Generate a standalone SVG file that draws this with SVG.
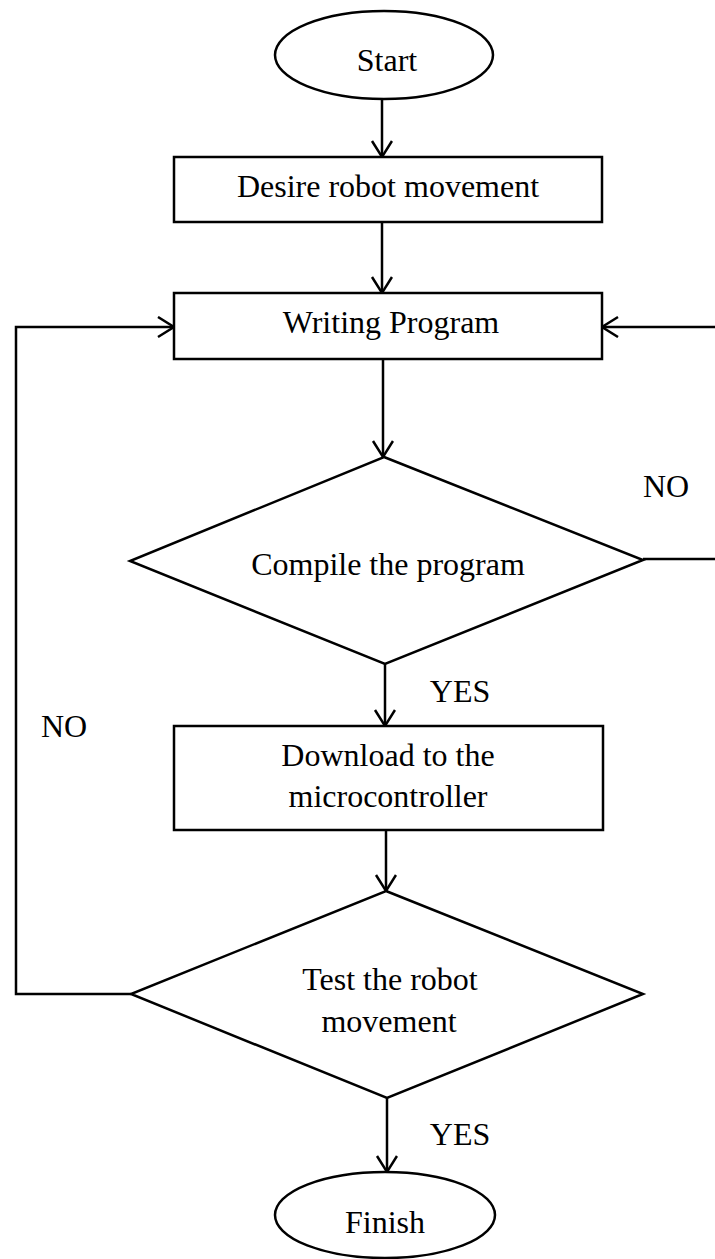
<svg xmlns="http://www.w3.org/2000/svg" width="715" height="1259" viewBox="0 0 715 1259">
<style>
.s{fill:#fff;stroke:#000;stroke-width:2.5}
.c{fill:none;stroke:#000;stroke-width:2.5}
text{font-family:"Liberation Serif","Times New Roman",serif;font-size:32px;fill:#000}
.m{text-anchor:middle}
</style>
<defs>
<marker id="a" markerWidth="20" markerHeight="24" refX="17" refY="11" orient="auto" markerUnits="userSpaceOnUse">
<path d="M1,1 L17,11 L1,21" fill="none" stroke="#000" stroke-width="2.5"/>
</marker>
</defs>
<rect width="715" height="1259" fill="#fff"/>
<g id="connectors">
<line class="c" x1="382" y1="99" x2="382" y2="157" marker-end="url(#a)"/>
<line class="c" x1="382" y1="222" x2="382" y2="293" marker-end="url(#a)"/>
<line class="c" x1="383" y1="359" x2="383" y2="457" marker-end="url(#a)"/>
<line class="c" x1="385" y1="664" x2="385" y2="726" marker-end="url(#a)"/>
<line class="c" x1="386" y1="830" x2="386" y2="891" marker-end="url(#a)"/>
<line class="c" x1="387" y1="1098" x2="387" y2="1172" marker-end="url(#a)"/>
<path class="c" d="M131,994 H16 V327 H174" marker-end="url(#a)"/>
<path class="c" d="M643,559 H724 V327 H602" marker-end="url(#a)"/>
<text x="666" y="497" class="m">NO</text>
<text x="460" y="702" class="m">YES</text>
<text x="64" y="737" class="m">NO</text>
<text x="460" y="1145" class="m">YES</text>
</g>
<g id="start">
<ellipse class="s" cx="384" cy="55" rx="109" ry="44"/>
<text x="387" y="71" class="m">Start</text>
</g>
<g id="desire">
<rect class="s" x="174" y="157" width="428" height="65"/>
<text x="388" y="197" class="m">Desire robot movement</text>
</g>
<g id="writing">
<rect class="s" x="174" y="293" width="428" height="66"/>
<text x="391" y="333" class="m">Writing Program</text>
</g>
<g id="compile">
<polygon class="s" points="384,457 643,560 385,664 130,561"/>
<text x="388" y="575" class="m">Compile the program</text>
</g>
<g id="download">
<rect class="s" x="174" y="726" width="429" height="104"/>
<text x="388" y="766" class="m">Download to the</text>
<text x="388" y="807" class="m">microcontroller</text>
</g>
<g id="test">
<polygon class="s" points="386,891 643,994 387,1098 131,994"/>
<text x="390" y="990" class="m">Test the robot</text>
<text x="389" y="1032" class="m">movement</text>
</g>
<g id="finish">
<ellipse class="s" cx="385" cy="1215" rx="110" ry="43"/>
<text x="385" y="1233" class="m">Finish</text>
</g>
</svg>
